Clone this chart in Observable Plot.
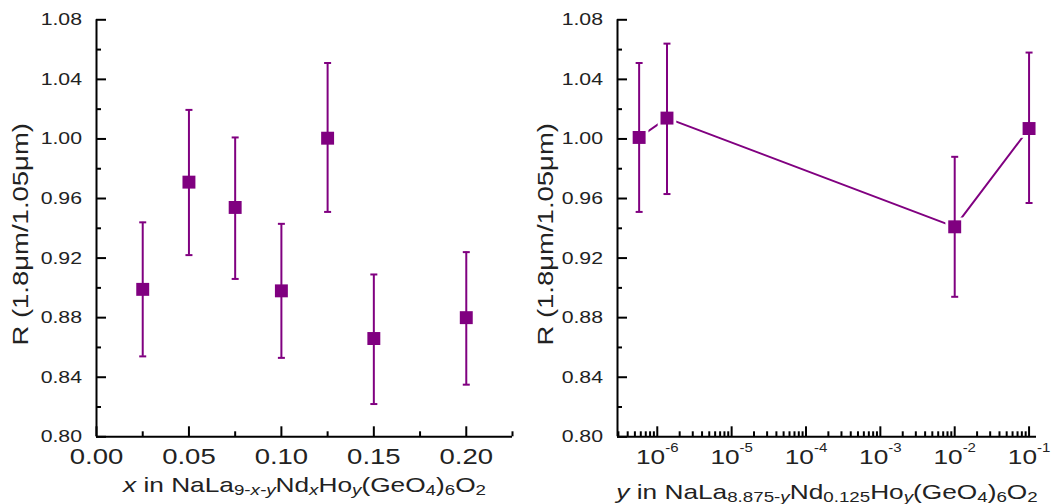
<!DOCTYPE html>
<html><head><meta charset="utf-8">
<script src="https://cdn.jsdelivr.net/npm/d3@7"></script>
<script src="https://cdn.jsdelivr.net/npm/@observablehq/plot@0.6"></script>
<style>
body{margin:0;background:#fff;}
#wrap{display:flex;width:1057px;height:504px;}
#wrap svg{font-family:"Liberation Sans",Arial,sans-serif;overflow:visible;}
#wrap svg text{fill:#222;}
</style>
</head><body><div id="wrap"></div>
<script>
// ---- Left panel data: x in NaLa(9-x-y)NdxHoy(GeO4)6O2
const xConc   = [0.025, 0.05, 0.075, 0.10, 0.125, 0.15, 0.20];
const rLeft   = [0.899, 0.971, 0.954, 0.898, 1.0005, 0.866, 0.880];
const rLeftLo = [0.854, 0.922, 0.906, 0.853, 0.951, 0.822, 0.835];
const rLeftHi = [0.944, 1.0195, 1.001, 0.943, 1.051, 0.909, 0.924];

// ---- Right panel data: y in NaLa(8.875-y)Nd0.125Hoy(GeO4)6O2
const yConc    = [5.7e-7, 1.35e-6, 0.01, 0.1];
const rRight   = [1.001, 1.014, 0.941, 1.007];
const rRightLo = [0.951, 0.963, 0.894, 0.957];
const rRightHi = [1.051, 1.064, 0.988, 1.058];

// ---- Axis ticks
const yMajor = [0.80, 0.84, 0.88, 0.92, 0.96, 1.00, 1.04, 1.08];
const yMinor = [0.82, 0.86, 0.90, 0.94, 0.98, 1.02, 1.06];
const xMajorL = [0.00, 0.05, 0.10, 0.15, 0.20];
const xMinorL = [0.025, 0.075, 0.125, 0.175, 0.225];
const xMajorR = [1e-6, 1e-5, 1e-4, 1e-3, 1e-2, 1e-1];
const decadesR = [-7, -6, -5, -4, -3, -2];
const xDomainL = [0, 0.225];
const xDomainR = [2.917e-7, 0.1259];
const yDomain = [0.80, 1.08];
const yTitle = "R (1.8μm/1.05μm)";

const purple = "#800080";
const fmt2 = d3.format(".2f");

const dataL = xConc.map((c, i) => ({c, r: rLeft[i], lo: rLeftLo[i], hi: rLeftHi[i]}));
const dataR = yConc.map((c, i) => ({c, r: rRight[i], lo: rRightLo[i], hi: rRightHi[i]}));
const xMinorR = [];
for (const k of decadesR) for (let m = 2; m <= 9; m++) {
  const v = m * Math.pow(10, k);
  if (v >= xDomainR[0] && v <= xDomainR[1]) xMinorR.push(v);
}

const capSymbol = {draw(ctx, size) { const w = Math.sqrt(size / Math.PI); ctx.moveTo(-w, 0); ctx.lineTo(w, 0); }};

function errMarks(data) {
  return [
    Plot.ruleX(data, {x: "c", y1: "lo", y2: "hi", stroke: purple, strokeWidth: 2}),
    Plot.dot(data, {x: "c", y: "lo", symbol: capSymbol, r: 3.5, stroke: purple, strokeWidth: 2, fill: "none"}),
    Plot.dot(data, {x: "c", y: "hi", symbol: capSymbol, r: 3.5, stroke: purple, strokeWidth: 2, fill: "none"}),
    Plot.dot(data, {x: "c", y: "r", symbol: "square", r: 7.3, fill: purple, stroke: "none"})
  ];
}

function yAxes(labelOffset) {
  return [
    Plot.axisY({ticks: yMinor, tickSize: -5, tickFormat: () => "", strokeWidth: 2, label: null}),
    Plot.axisY({ticks: yMajor, tickSize: -10, tickPadding: 24.5, tickFormat: fmt2, strokeWidth: 2,
      label: yTitle, labelAnchor: "center", labelOffset})
  ];
}

const MT = 19.3, MB = 67.7;

const left = Plot.plot({
  width: 530, height: 504,
  marginLeft: 96, marginRight: 18, marginTop: MT, marginBottom: MB,
  x: {domain: xDomainL},
  y: {domain: yDomain},
  marks: [
    ...yAxes(84),
    Plot.axisX({ticks: xMinorL, tickSize: -5, tickFormat: () => "", strokeWidth: 2, label: null}),
    Plot.axisX({ticks: xMajorL, tickSize: -10, tickPadding: 22, tickFormat: fmt2, strokeWidth: 2,
      label: "x in NaLa", labelAnchor: "center", labelOffset: 55}),
    Plot.ruleY([yDomain[0]], {stroke: "black", strokeWidth: 2}),
    Plot.ruleX([xDomainL[0]], {stroke: "black", strokeWidth: 2}),
    ...errMarks(dataL)
  ]
});

const right = Plot.plot({
  width: 527, height: 504,
  marginLeft: 87, marginRight: 21, marginTop: MT, marginBottom: MB,
  x: {type: "log", domain: xDomainR},
  y: {domain: yDomain},
  marks: [
    ...yAxes(80),
    Plot.axisX({ticks: xMinorR, tickSize: -5, tickFormat: () => "", strokeWidth: 2, label: null}),
    Plot.axisX({ticks: xMajorR, tickSize: -10, tickPadding: 22.5,
      tickFormat: d => "10^" + Math.round(Math.log10(d)), strokeWidth: 2,
      label: "y in NaLa", labelAnchor: "center", labelOffset: 62}),
    Plot.ruleY([yDomain[0]], {stroke: "black", strokeWidth: 2}),
    Plot.ruleX([xDomainR[0]], {stroke: "black", strokeWidth: 2}),
    Plot.line(dataR, {x: "c", y: "r", stroke: purple, strokeWidth: 2}),
    Plot.dot(dataR, {x: "c", y: "r", symbol: "square", r: 10.5, fill: "white", stroke: "none"}),
    ...errMarks(dataR)
  ]
});

const wrap = document.getElementById("wrap");
wrap.appendChild(left);
wrap.appendChild(right);

const NS = "http://www.w3.org/2000/svg";
function rich(t, parts) {
  t.textContent = "";
  let shift = 0;
  for (const [s, sub, it] of parts) {
    const ts = document.createElementNS(NS, "tspan");
    const target = sub ? 3 : 0;
    if (target !== shift) { ts.setAttribute("dy", target - shift); shift = target; }
    if (sub) ts.style.fontSize = "15px";
    if (it) ts.style.fontStyle = "italic";
    ts.textContent = s;
    t.appendChild(ts);
  }
}

const titleL = [["x", 0, 1], [" in NaLa", 0, 0], ["9-", 1, 0], ["x-y", 1, 1], ["Nd", 0, 0], ["x", 1, 1],
  ["Ho", 0, 0], ["y", 1, 1], ["(GeO", 0, 0], ["4", 1, 0], [")", 0, 0], ["6", 1, 0], ["O", 0, 0], ["2", 1, 0]];
const titleR = [["y", 0, 1], [" in NaLa", 0, 0], ["8.875-", 1, 0], ["y", 1, 1], ["Nd", 0, 0], ["0.125", 1, 0],
  ["Ho", 0, 0], ["y", 1, 1], ["(GeO", 0, 0], ["4", 1, 0], [")", 0, 0], ["6", 1, 0], ["O", 0, 0], ["2", 1, 0]];

function setSize(svg, sel, px) {
  svg.querySelectorAll(sel).forEach(t => { t.style.fontSize = px + "px"; });
}

function finish(svg, title, sup, xTickPx) {
  setSize(svg, '[aria-label="y-axis tick label"] text', 17);
  setSize(svg, '[aria-label="x-axis tick label"] text', xTickPx);
  setSize(svg, '[aria-label="y-axis label"] text', 22);
  setSize(svg, '[aria-label="x-axis label"] text', 21);
  const ylab = svg.querySelector('[aria-label="y-axis label"] text');
  if (ylab) {
    ylab.textContent = yTitle;
    ylab.setAttribute("data-ylab", "1");
  }
  const lab = svg.querySelector('[aria-label="x-axis label"] text');
  if (lab) rich(lab, title);
  if (sup) {
    svg.querySelectorAll('[aria-label="x-axis tick label"] text').forEach(t => {
      const s = t.textContent;
      if (!s.includes("^")) return;
      const [base, ex] = s.split("^");
      t.textContent = base;
      const ts = document.createElementNS(NS, "tspan");
      ts.setAttribute("dy", "-12");
      ts.style.fontSize = "12px";
      ts.textContent = ex;
      t.appendChild(ts);
    });
  }
  svg.querySelectorAll("text").forEach(t => {
    const tr = t.getAttribute("transform") || "";
    const nudge = t.getAttribute("data-ylab") ? " translate(-6,0)" : "";
    t.setAttribute("transform", (tr + nudge + " scale(1.25,1)").trim());
  });
}
finish(left, titleL, false, 22);
finish(right, titleR, true, 21);
</script>
</body></html>
